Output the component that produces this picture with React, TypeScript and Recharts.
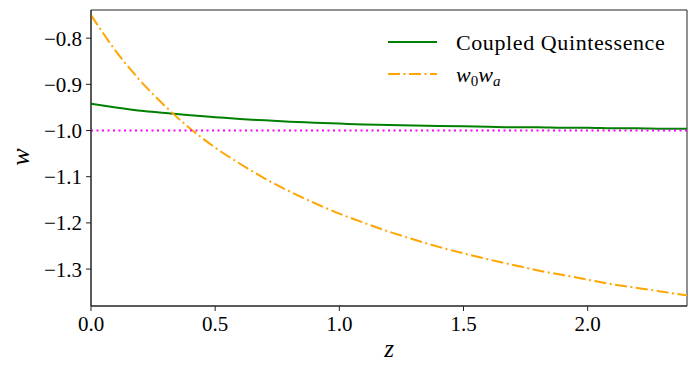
import {
  LineChart,
  Line,
  XAxis,
  YAxis,
  ReferenceLine,
  ReferenceArea,
} from "recharts";

// redshift grid and w(z)
const zValues = [
  0, 0.1, 0.2, 0.3, 0.4, 0.5, 0.6, 0.7, 0.8, 0.9, 1.0, 1.1, 1.2, 1.3, 1.4, 1.5,
  1.6, 1.7, 1.8, 1.9, 2.0, 2.1, 2.2, 2.3, 2.4,
];
const coupledQuintessence = [
  -0.942, -0.95, -0.957, -0.962, -0.967, -0.971, -0.975, -0.978, -0.981, -0.983,
  -0.985, -0.987, -0.988, -0.989, -0.99, -0.991, -0.992, -0.993, -0.993, -0.994,
  -0.994, -0.995, -0.995, -0.996, -0.996,
];
const w0wa = [
  -0.75, -0.828, -0.893, -0.948, -0.996, -1.037, -1.072, -1.104, -1.132, -1.157,
  -1.18, -1.2, -1.219, -1.236, -1.252, -1.266, -1.279, -1.291, -1.303, -1.313,
  -1.323, -1.333, -1.341, -1.349, -1.357,
];
const xTicks = [0, 0.5, 1.0, 1.5, 2.0];
const yTicks = [-1.3, -1.2, -1.1, -1.0, -0.9, -0.8];
const phantomDivide = -1.0;

const data = zValues.map((z, i) => ({
  z,
  cq: coupledQuintessence[i],
  w0wa: w0wa[i],
}));

const FONT = '"Liberation Serif", "DejaVu Serif", serif';
const fmt = (v: number) => v.toFixed(1).replace("-", "\u2212");

const tickStyle = { fill: "#000", fontSize: 21, fontFamily: FONT };

function LegendBox() {
  return (
    <svg width={310} height={80} style={{ display: "block" }}>
      <line x1={8} y1={20} x2={57} y2={20} stroke="green" strokeWidth={2} />
      <text x={76} y={28} fontSize={22} fontFamily={FONT} letterSpacing={0.6} fill="#000">
        Coupled Quintessence
      </text>
      <line
        x1={8}
        y1={52}
        x2={57}
        y2={52}
        stroke="orange"
        strokeWidth={2}
        strokeDasharray="12 3.5 2 3.5"
      />
      <text x={76} y={60} fontSize={22} fontFamily={FONT} fill="#000">
        <tspan fontStyle="italic">w</tspan>
        <tspan fontSize={15} dy={4}>0</tspan>
        <tspan fontStyle="italic" dy={-4}>w</tspan>
        <tspan fontStyle="italic" fontSize={15} dy={4}>a</tspan>
      </text>
    </svg>
  );
}

export default function App() {
  return (
    <div style={{ position: "absolute", left: 0, top: 0, background: "#fff" }}>
      <LineChart
        width={697}
        height={373}
        data={data}
        margin={{ top: 10, right: 10, bottom: 0, left: 0 }}
      >
        <XAxis
          dataKey="z"
          type="number"
          domain={[0, 2.4]}
          ticks={xTicks}
          allowDataOverflow
          tickFormatter={fmt}
          tick={tickStyle}
          tickSize={5}
          tickMargin={5}
          height={67}
          stroke="#222"
          label={() => (
            <text
              x={389}
              y={357}
              textAnchor="middle"
              fontSize={25}
              fontStyle="italic"
              fontFamily={FONT}
              fill="#000"
            >
              z
            </text>
          )}
        />
        <YAxis
          type="number"
          domain={[-1.38, -0.739]}
          ticks={yTicks}
          allowDataOverflow
          tickFormatter={fmt}
          tick={tickStyle}
          tickSize={5}
          tickMargin={4}
          width={91}
          stroke="#222"
          label={() => (
            <text
              x={28.5}
              y={157}
              transform="rotate(-90 28.5 157)"
              textAnchor="middle"
              fontSize={26}
              fontStyle="italic"
              fontFamily={FONT}
              fill="#000"
            >
              w
            </text>
          )}
        />
        <ReferenceArea
          x1={0}
          x2={2.4}
          y1={-1.38}
          y2={-0.739}
          fill="none"
          stroke="#222"
          strokeWidth={1}
          ifOverflow="visible"
        />
        <Line
          type="monotone"
          dataKey="cq"
          name="Coupled Quintessence"
          stroke="green"
          strokeWidth={2}
          dot={false}
          isAnimationActive={false}
        />
        <Line
          type="monotone"
          dataKey="w0wa"
          name="w0wa"
          stroke="orange"
          strokeWidth={2}
          strokeDasharray="12 3.5 2 3.5"
          dot={false}
          isAnimationActive={false}
        />
        <ReferenceLine
          y={phantomDivide}
          stroke="magenta"
          strokeWidth={2}
          strokeDasharray="2 3.5"
        />
      </LineChart>
      <div style={{ position: "absolute", left: 380, top: 22 }}>
        <LegendBox />
      </div>
    </div>
  );
}
